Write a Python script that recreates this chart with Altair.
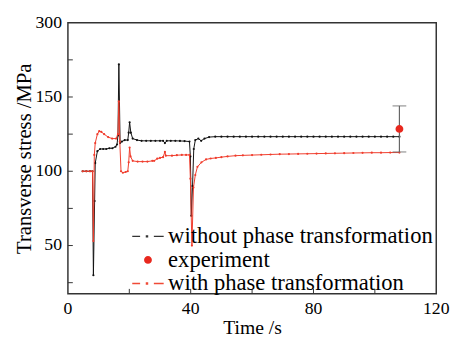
import altair as alt
import pandas as pd

# ---- data ----
black_t = [4.8, 6.0, 7.2, 8.0, 8.3, 8.7, 8.9, 9.6, 10.5, 11.5, 12.5, 13.5, 14.5, 15.5, 16.0, 16.3,
           16.6, 17.0, 17.6, 18.5, 19.5, 19.8, 20.1, 20.5, 21.1, 22.5, 24.0, 25.5, 27.0, 28.5, 30.0,
           31.0, 31.6, 32.2, 33.5, 35.0, 36.5, 38.0, 39.6, 39.9, 40.2, 40.6, 41.0, 41.5, 42.5, 43.4,
           44.5, 46.0, 48.0, 50.0, 52.0, 54.0, 56.0, 58.0, 60.0, 62.0, 64.0, 66.0, 68.0, 70.0, 72.0,
           74.0, 76.0, 78.0, 80.0, 82.0, 84.0, 86.0, 88.0, 90.0, 92.0, 94.0, 96.0, 98.0, 100.0, 102.0,
           104.0, 106.0, 108.0]
black_v = [100, 100, 100, 100, 30, 80, 105.5, 113.5, 115, 115, 115, 115.5, 115.5, 116.5, 118, 124,
           172, 119, 120, 121, 121, 126, 133, 126, 122, 121, 120.5, 120.5, 120.5, 120.5, 120.5,
           120.5, 119, 120.5, 120.5, 120.5, 120.4, 120.3, 120, 110, 70, 90, 115, 121, 122, 120.5,
           122, 123, 123.3, 123.3, 123.3, 123.3, 123.3, 123.3, 123.3, 123.3, 123.3, 123.3, 123.3, 123.3, 123.3,
           123.3, 123.3, 123.3, 123.3, 123.3, 123.3, 123.3, 123.3, 123.3, 123.3, 123.3, 123.3, 123.3, 123.3, 123.3,
           123.3, 123.3, 123.3]

red_t = [4.8, 6.0, 7.2, 8.0, 8.3, 8.6, 8.9, 9.6, 10.2, 10.9, 11.8, 13.1, 14.4, 15.7, 16.3, 16.6,
         16.9, 17.3, 17.9, 18.8, 19.5, 19.8, 20.1, 20.4, 21.1, 22.7, 24.3, 25.9, 27.5, 28.1, 29.1,
         30.0, 31.0, 31.6, 31.9, 33.9, 35.5, 37.1, 38.5, 39.6, 39.9, 40.4, 40.9, 41.5, 42.2, 43.5,
         45.0, 46.5, 48.2, 50.0, 52.0, 54.6, 57.0, 60.0, 63.0, 66.0, 69.0, 72.0, 75.0, 78.0, 81.0,
         84.0, 87.0, 90.0, 93.0, 96.0, 99.0, 102.0, 105.0, 108.0]
red_v = [100, 100, 100, 100, 53, 111, 119, 125, 127, 126.5, 125, 123, 122, 122, 125, 147,
         120, 100, 99, 99.5, 100, 106, 116, 110, 107, 106.5, 106.5, 106.5, 107, 107, 108.5,
         109, 109.5, 113, 110.5, 110.5, 110.8, 111, 111, 111, 95, 50, 89, 97.5, 103, 106,
         108, 108.6, 109, 109.5, 110, 110.5, 110.7, 110.9, 111.1, 111.3, 111.5, 111.6, 111.7, 111.8, 111.9,
         112, 112.1, 112.2, 112.3, 112.4, 112.5, 112.5, 112.6, 112.6]

exp_t = [108]
exp_v = [128.5]
exp_lo = [113]
exp_hi = [144]

series_names = ["without phase transformation", "experiment", "with phase transformation"]
series_colors = ["#333333", "#e8281e", "#f04a36"]

y_ticks_minor = [25, 50, 75, 100, 125, 150, 175]
x_ticks_minor = [20, 40, 60, 80, 100]
y_label_values = [50, 100, 150, 200]
y_label_texts = ["50", "100", "150", "300"]
x_label_values = [0, 40, 80, 120]
x_label_texts = ["0", "40", "80", "120"]

FONT = "Liberation Serif"
W, H = 375, 276

black = pd.DataFrame({"t": black_t, "v": black_v})
red = pd.DataFrame({"t": red_t, "v": red_v})
exp = pd.DataFrame({"t": exp_t, "v": exp_v, "lo": exp_lo, "hi": exp_hi, "series": ["experiment"]})
yt = pd.DataFrame({"v": y_ticks_minor})
xt = pd.DataFrame({"t": x_ticks_minor})
ylab = pd.DataFrame({"v": y_label_values, "txt": y_label_texts})
xlab = pd.DataFrame({"t": x_label_values, "txt": x_label_texts})

xscale = alt.Scale(domain=[0, 120], nice=False, zero=False)
yscale = alt.Scale(domain=[17.5, 200], nice=False, zero=False)

xaxis = alt.Axis(values=x_label_values, title="Time /s", grid=False, ticks=False, domain=False,
                 labels=False, titleFont=FONT, titleFontSize=20, titleFontWeight="normal",
                 titleColor="black", titlePadding=24)
yaxis = alt.Axis(values=y_label_values, title="Transverse stress /MPa", grid=False, ticks=False,
                 domain=False, labels=False, titleFont=FONT, titleFontSize=21,
                 titleFontWeight="normal", titleColor="black", titlePadding=34)

X = alt.X("t:Q", scale=xscale, axis=xaxis)
Y = alt.Y("v:Q", scale=yscale, axis=yaxis)

black_line = alt.Chart(black).mark_line(
    color="#111111", strokeWidth=1,
    point=alt.OverlayMarkDef(filled=True, size=5, color="#111111", opacity=1)
).encode(x=X, y=Y)

red_line = alt.Chart(red).mark_line(
    color="#f03c2c", strokeWidth=1,
    point=alt.OverlayMarkDef(filled=True, size=5, color="#f03c2c", opacity=1)
).encode(x=X, y=Y)

err_rule = alt.Chart(exp).mark_rule(color="#666666", strokeWidth=1.2).encode(
    x="t:Q", y="lo:Q", y2="hi:Q")
cap_lo = alt.Chart(exp).mark_tick(color="#666666", orient="horizontal", size=14, thickness=1.2).encode(
    x="t:Q", y="lo:Q")
cap_hi = alt.Chart(exp).mark_tick(color="#666666", orient="horizontal", size=14, thickness=1.2).encode(
    x="t:Q", y="hi:Q")

path_line = "M-3.2,-0.13H-1.6V0.13H-3.2Z M-0.45,-0.24H0.05V0.24H-0.45Z M1.2,-0.13H3.2V0.13H1.2Z"
path_dot = "M0.8,0A0.8,0.8,0,1,1,-0.8,0A0.8,0.8,0,1,1,0.8,0Z"

leg = alt.Legend(orient="none", legendX=70, legendY=206, title=None, labelFont=FONT,
                 labelFontSize=23, labelColor="black", symbolSize=100, labelOffset=9,
                 rowPadding=0, padding=0, symbolStrokeWidth=0, labelLimit=500)

exp_point = alt.Chart(exp).mark_point(filled=True, size=100, opacity=1).encode(
    x="t:Q", y="v:Q",
    color=alt.Color("series:N", scale=alt.Scale(domain=series_names, range=series_colors), legend=leg),
    shape=alt.Shape("series:N", scale=alt.Scale(domain=series_names, range=[path_line, path_dot, path_line]),
                    legend=leg),
)

ytick_layer = alt.Chart(yt).mark_rule(color="#333333", strokeWidth=1).encode(
    y="v:Q", x=alt.value(0), x2=alt.value(5))
xtick_layer = alt.Chart(xt).mark_rule(color="#333333", strokeWidth=1).encode(
    x="t:Q", y=alt.value(H), y2=alt.value(H - 5))

ylabels = alt.Chart(ylab).mark_text(font=FONT, fontSize=18, color="black", align="right",
                                     baseline="middle", dx=-6).encode(
    y="v:Q", x=alt.value(0), text="txt:N")
xlabels = alt.Chart(xlab).mark_text(font=FONT, fontSize=18, color="black", align="center",
                                     baseline="top", dy=0).encode(
    x="t:Q", y=alt.value(H + 7), text="txt:N")

chart = alt.layer(
    ytick_layer, xtick_layer, black_line, red_line, err_rule, cap_lo, cap_hi, exp_point,
    ylabels, xlabels
).properties(
    width=W, height=H,
    autosize=alt.AutoSizeParams(type="none"),
    padding={"left": 61, "top": 12, "right": 14, "bottom": 42},
    background="white",
).configure(
    font=FONT
).configure_view(stroke="#333333", strokeWidth=1.5)

chart.save("out.html", embed_options={"renderer": "svg", "actions": False})
